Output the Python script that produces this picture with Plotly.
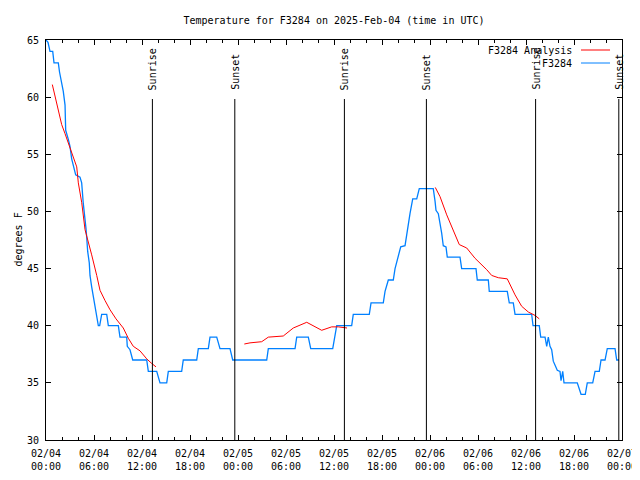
import pandas as pd
import plotly.graph_objects as go

# ---------------- data ----------------
start = pd.Timestamp("2025-02-04 00:00")

# observed temperature (hours since 2025-02-04 00:00 UTC, degrees F)
obs_hours = [0.0, 0.25, 0.5, 0.84, 1.0, 1.54, 1.69, 1.96, 2.16, 2.38, 2.46, 2.79, 3.0, 3.21,
             3.41, 3.71, 4.25, 4.46, 4.66, 4.88, 5.0, 5.09, 5.21, 5.41, 5.5, 5.71, 5.91, 6.13,
             6.34, 6.54, 6.71, 6.96, 7.59, 7.79, 9.04, 9.25, 10.09, 10.16, 10.5, 10.84, 12.59,
             12.79, 13.84, 14.25, 15.09, 15.29, 16.96, 17.16, 18.84, 19.04, 20.29, 20.5, 21.34,
             21.75, 23.0, 23.34, 27.59, 27.79, 31.13, 31.34, 32.79, 33.09, 35.84, 36.13, 36.34,
             38.21, 38.41, 40.41, 40.63, 42.16, 42.38, 42.79, 43.41, 43.63, 44.04, 44.34, 44.88,
             45.09, 45.5, 45.84, 46.34, 46.66, 48.41, 48.63, 48.75, 49.04, 49.25, 49.46, 49.66,
             50.0, 50.16, 51.75, 51.96, 53.75, 53.91, 55.29, 55.41, 57.66, 57.91, 58.41, 58.63,
             60.71, 60.88, 61.66, 61.84, 62.38, 62.59, 62.79, 63.0, 63.21, 63.41, 63.91, 64.25,
             64.38, 64.59, 64.75, 66.41, 66.75, 66.88, 67.41, 67.66, 68.34, 68.63, 69.16, 69.38,
             69.88, 70.16, 71.13, 71.34, 71.63]
obs_temps = [65.0, 64.8, 64.0, 64.0, 63.0, 63.0, 62.2, 61.2, 60.5, 59.3, 57.1, 56.3, 55.7, 54.6,
             54.1, 53.2, 53.0, 52.5, 50.7, 49.5, 48.5, 47.7, 46.5, 45.5, 44.4, 43.4, 42.5, 41.7,
             40.8, 40.0, 40.0, 41.0, 41.0, 40.0, 40.0, 39.0, 39.0, 38.2, 37.9, 37.0, 37.0,
             36.0, 36.0, 35.0, 35.0, 36.0, 36.0, 37.0, 37.0, 38.0, 38.0, 39.0, 39.0,
             38.0, 38.0, 37.0, 37.0, 38.0, 38.0, 39.0, 39.0, 38.0, 38.0, 39.0, 40.0,
             40.0, 41.0, 41.0, 42.0, 42.0, 43.0, 44.0, 44.0, 45.0, 46.0, 46.9, 47.0,
             48.1, 49.8, 51.1, 51.1, 52.0, 52.0, 50.9, 50.1, 49.8, 49.0, 48.1, 47.0,
             46.9, 46.0, 46.0, 45.0, 45.0, 44.0, 44.0, 43.0, 43.0, 42.0, 42.0, 41.0,
             41.0, 40.0, 40.0, 39.0, 39.0, 38.2, 39.0, 38.2, 37.9, 36.9, 36.1, 36.0,
             35.2, 36.0, 35.0, 35.0, 34.4, 34.0, 34.0, 35.0, 35.0, 36.0, 36.0, 37.0,
             37.0, 38.0, 38.0, 37.0, 37.0]

# analysis temperature, three separate runs (None = gap)
ana_hours = [0.79, 1.13, 1.54, 1.96, 2.38, 2.79, 3.41, 3.84, 4.04, 4.46, 4.88, 5.29, 5.71, 6.34,
             6.75, 7.38, 8.0, 8.75, 9.66, 10.29, 10.91, 11.75, 12.59, 13.21, 13.75, None,
             24.79, 25.5, 26.96, 27.79, 29.66, 30.91, 32.59, 33.41, 34.46, 35.71, 36.54, 37.63, None,
             48.66, 49.25, 50.09, 50.91, 51.66, 52.59, 53.63, 55.09, 55.71, 56.54, 57.66, 58.63,
             59.46, 60.29, 61.13, 61.66]
ana_temps = [61.1, 60.0, 58.9, 57.6, 56.8, 56.0, 54.6, 53.9, 52.5, 50.8, 48.4, 47.4, 46.2, 44.4,
             43.1, 42.2, 41.4, 40.6, 39.8, 38.9, 38.2, 37.8, 37.1, 36.7, 36.4, None,
             38.4, 38.5, 38.6, 39.0, 39.1, 39.8, 40.3, 40.0, 39.6, 39.9, 39.9, 39.8, None,
             52.1, 51.3, 49.7, 48.4, 47.1, 46.8, 45.9, 44.9, 44.4, 44.2, 44.1, 42.7,
             41.7, 41.2, 40.9, 40.6]

event_hours = [13.3, 23.6, 37.3, 47.55, 61.2, 71.6]
event_labels = ["Sunrise", "Sunset", "Sunrise", "Sunset", "Sunrise", "Sunset"]

tick_hours = list(range(0, 73, 6))
y_ticks = [30, 35, 40, 45, 50, 55, 60, 65]

series_names = ["F3284 Analysis", "F3284"]
series_colors = ["#ff0000", "#0080ff"]


def to_time(hs):
    return [None if h is None else start + pd.Timedelta(hours=h) for h in hs]


FONT = "DejaVu Sans Mono"
# the page body has an 8px margin; offset the figure so the plot lands where it should
W, H = 632, 464

fig = go.Figure()
fig.add_trace(go.Scatter(x=to_time(obs_hours), y=obs_temps, mode="lines",
                         line=dict(color=series_colors[1], width=1.3),
                         name=series_names[1], showlegend=False))
fig.add_trace(go.Scatter(x=to_time(ana_hours), y=ana_temps, mode="lines",
                         line=dict(color=series_colors[0], width=1),
                         name=series_names[0], showlegend=False, connectgaps=False))

# sunrise / sunset markers
for h, lab in zip(event_hours, event_labels):
    t = start + pd.Timedelta(hours=h)
    fig.add_shape(type="line", xref="x", yref="paper", x0=t, x1=t, y0=0, y1=0.8525,
                  line=dict(color="black", width=1))
    fig.add_annotation(x=t, y=0.87, xref="x", yref="paper", text=lab, showarrow=False,
                       textangle=-90, xanchor="center", yanchor="bottom",
                       font=dict(family=FONT, size=10, color="black"))

# legend (gnuplot style: text right-aligned, sample to the right)
leg_y = [0.975, 0.9425]
for name, col, yy in zip(series_names, series_colors, leg_y):
    fig.add_annotation(x=0.9167, y=yy, xref="paper", yref="paper", text=name,
                       showarrow=False, xanchor="right", yanchor="middle",
                       font=dict(family=FONT, size=10, color="black"))
    fig.add_shape(type="line", xref="paper", yref="paper", x0=0.9288, x1=0.9792,
                  y0=yy, y1=yy, line=dict(color=col, width=1))

# y axis title
fig.add_annotation(x=0, y=0.5, xref="paper", yref="paper", text="degrees F",
                   showarrow=False, textangle=-90, xshift=-36,
                   font=dict(family=FONT, size=10, color="black"))

tick_times = to_time(tick_hours)
tick_text = [f"{t:%m/%d}<br>{t:%H:%M}" for t in tick_times]

fig.update_layout(
    width=W, height=H,
    margin=dict(l=38, r=18, t=32, b=32, autoexpand=False),
    paper_bgcolor="white", plot_bgcolor="white",
    font=dict(family=FONT, size=10, color="black"),
    title=dict(text="Temperature for F3284 on 2025-Feb-04 (time in UTC)",
               x=0.5, xref="paper", xanchor="center",
               y=1 - 12 / H, yref="container", yanchor="middle",
               font=dict(family=FONT, size=10, color="black")),
    showlegend=False,
    xaxis=dict(type="date", range=[tick_times[0], tick_times[-1]],
               tickmode="array", tickvals=tick_times, ticktext=tick_text,
               ticks="inside", ticklen=5, tickcolor="black", tickwidth=1,
               ticklabelstandoff=4, automargin=False, ticklabeloverflow="allow",
               minor=dict(dtick=2 * 3600 * 1000, ticks="inside", ticklen=3,
                          tickcolor="black", showgrid=False),
               showgrid=False, zeroline=False, showline=True, linecolor="black",
               linewidth=1, mirror="ticks",
               tickfont=dict(family=FONT, size=10, color="black")),
    yaxis=dict(range=[30, 65], tickmode="array", tickvals=y_ticks,
               ticks="inside", ticklen=5, tickcolor="black", tickwidth=1,
               ticklabelstandoff=4, automargin=False,
               showgrid=False, zeroline=False, showline=True, linecolor="black",
               linewidth=1, mirror="ticks",
               tickfont=dict(family=FONT, size=10, color="black")),
)

fig.write_html("out.html")
